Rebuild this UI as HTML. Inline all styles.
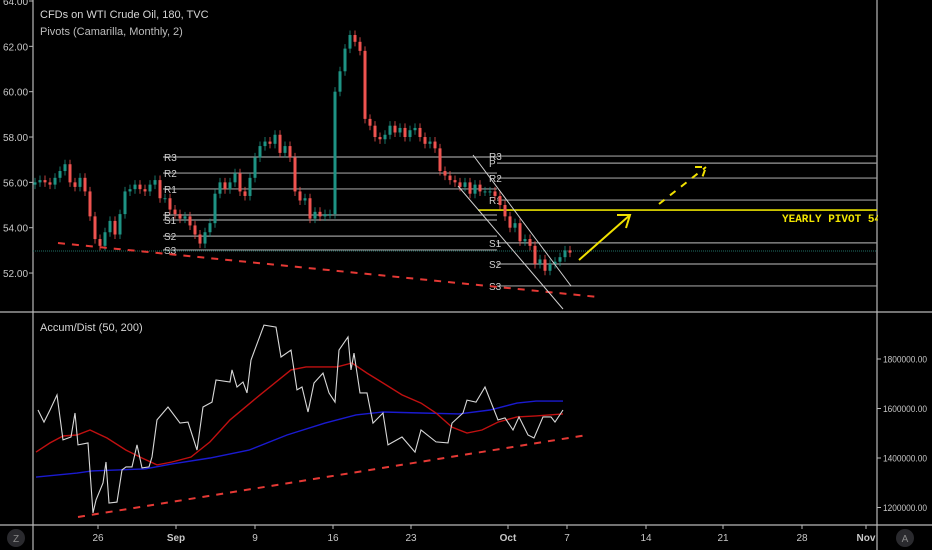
<!DOCTYPE html>
<html><head><meta charset="utf-8"><style>
html,body{margin:0;padding:0;background:#000;width:932px;height:550px;overflow:hidden}
svg{display:block;font-family:"Liberation Sans",sans-serif}
</style></head><body>
<svg id="chart" width="932" height="550" viewBox="0 0 932 550" xmlns="http://www.w3.org/2000/svg">
<rect width="932" height="550" fill="#000"/>
<g id="frame" stroke="#b8b8b8" stroke-width="1.2">
<line x1="33" y1="0" x2="33" y2="550"/>
<line x1="877" y1="0" x2="877" y2="550"/>
<line x1="0" y1="312" x2="932" y2="312"/>
<line x1="0" y1="525" x2="932" y2="525"/>
</g>
<g id="priceAxis"></g>
<g id="adAxis"></g>
<g id="timeAxis"></g>
<g id="pivots"></g>
<g id="candles"></g>
<g id="drawings"></g>
<g id="adPane"></g>
<text x="40" y="18" fill="#d6d6d6" font-size="11">CFDs on WTI Crude Oil, 180, TVC</text>
<text x="40" y="35" fill="#bdbdbd" font-size="11">Pivots (Camarilla, Monthly, 2)</text>
<text x="40" y="331" fill="#d6d6d6" font-size="11">Accum/Dist (50, 200)</text>
<text x="782" y="222" fill="#f2e600" font-size="11" font-weight="bold" font-family="Liberation Mono, monospace">YEARLY PIVOT 54</text>
<rect x="878" y="0" width="54" height="311" fill="#000"/>
<g><circle cx="16" cy="538" r="9" fill="#2a2a2e"/><text x="16" y="542" fill="#888" font-size="10" text-anchor="middle">Z</text></g>
<g><circle cx="905" cy="538" r="9" fill="#2a2a2e"/><text x="905" y="542" fill="#888" font-size="10" text-anchor="middle">A</text></g>
</svg>
<script>
// ---- data ----
const closes=[56.0,56.1,56.0,55.9,56.2,56.5,56.8,56.0,55.8,56.2,55.6,54.5,53.5,53.2,53.8,54.3,53.7,54.6,55.6,55.7,55.9,55.7,55.6,55.9,56.1,55.3,55.3,54.8,54.6,54.4,54.5,54.1,53.7,53.3,53.8,54.2,55.5,56.0,55.7,56.0,56.4,55.6,55.4,56.2,57.1,57.6,57.8,57.7,58.1,57.3,57.6,57.1,55.6,55.2,55.3,54.4,54.7,54.5,54.6,54.6,60.0,60.9,61.9,62.5,62.2,61.8,58.8,58.5,58.0,57.9,58.1,58.5,58.2,58.4,58.0,58.3,58.4,58.0,57.7,57.8,57.5,56.5,56.3,56.1,56.0,55.8,56.0,55.5,55.9,55.6,55.6,55.6,55.4,55.0,54.5,54.0,54.2,53.4,53.5,53.2,52.4,52.6,52.1,52.4,52.5,52.7,53.0,52.9];
const priceTicks=[64,62,60,58,56,54,52];
const adTimes=[0.6,1.8,3,4.4,5.6,7.2,8,8.6,10.6,11.6,12.2,13.6,14.2,14.8,16.4,17.4,18.2,19.4,20.4,21.4,22.8,23.4,24.4,26.6,29,30.6,32.4,33.6,35.4,36.2,39,39.4,40.4,41.6,42.4,43.2,45.8,48.2,49.2,51.2,52.4,53.4,54.6,55.8,57.6,58.8,60,60.8,62.6,63.2,63.8,65,66.4,67.6,69.6,70.6,73.4,76,77.2,80.2,82.6,83.4,85.6,86.4,88.2,90,92.6,94,95.6,96.8,98.6,99.8,101.6,103.2,104,105.6];
const adValues=[1594,1545,1594,1655,1473,1485,1582,1453,1461,1178,1230,1299,1384,1218,1222,1352,1364,1364,1453,1360,1364,1404,1554,1606,1541,1545,1432,1606,1626,1715,1707,1756,1687,1707,1663,1796,1937,1929,1808,1836,1675,1687,1586,1703,1743,1663,1626,1836,1889,1756,1824,1663,1663,1541,1582,1453,1485,1424,1513,1465,1461,1541,1582,1634,1626,1687,1554,1562,1513,1566,1493,1481,1566,1566,1545,1594];
const ma50Times=[0.2,3,5.6,8.4,11,14.4,18.2,21.4,24.4,27.4,31.2,35,39,45,51.2,54.2,60.4,63.4,66.4,69.6,73.4,77.2,80.2,83.4,86.4,89.4,92.6,96.4,100.2,105.6];
const ma50Values=[1424,1461,1489,1493,1513,1481,1432,1400,1372,1384,1404,1465,1554,1655,1756,1768,1768,1784,1743,1703,1655,1622,1582,1525,1501,1513,1545,1566,1570,1578];
const ma200Times=[0.2,8.4,11.4,22,27.4,35,42.8,50.4,58,64.2,69.6,77.2,84.8,91,96.4,100.2,105.6];
const ma200Values=[1323,1339,1348,1356,1376,1400,1432,1493,1541,1574,1586,1582,1578,1594,1622,1630,1630];
const adTicks=[1800000,1600000,1400000,1200000];
const timeLabels=["26","Sep","9","16","23","Oct","7","14","21","28","Nov"];
const timeTicks=[12.6,28.2,44,59.6,75.2,94.6,106.4,122.2,137.6,153.4,166.2];
const pivotNames=["R3","R2","R1","P","S1","S2","S3"];
const pivotsAug=[57.12,56.41,55.71,54.56,54.34,53.63,53.02];
const pivotsSep=[57.16,56.19,55.22,56.85,53.33,52.40,51.43];
const yearlyPivot=54.78;
const lastPrice=52.97;
// ---- axes ----
const X=t=>35+t*5;
const Y=p=>1+(64-p)*22.67;
const YA=v=>359+(1800000-v)/200000*49.5;
const NS="http://www.w3.org/2000/svg";
function mk(tag,attrs,parent){const e=document.createElementNS(NS,tag);for(const k in attrs)e.setAttribute(k,attrs[k]);parent.appendChild(e);return e;}
const pa=document.getElementById('priceAxis');
priceTicks.forEach(p=>{
 const l=mk('line',{x1:29,x2:33,y1:Y(p),y2:Y(p),stroke:'#b8b8b8'},pa);
 
 
 const t=mk('text',{x:3,y:Y(p)+4,fill:'#c8c8c8','font-size':10},pa);
 t.textContent=p.toFixed(2);
 
 
});
const aa=document.getElementById('adAxis');
adTicks.forEach(v=>{
 mk('line',{x1:877,x2:881,y1:YA(v),y2:YA(v),stroke:'#b8b8b8'},aa);
 const t=mk('text',{x:883,y:YA(v)+3.5,fill:'#c8c8c8','font-size':9,'textLength':44,'lengthAdjust':'spacingAndGlyphs'},aa);
 t.textContent=v.toFixed(2);
 
 
});
const ta=document.getElementById('timeAxis');
timeLabels.forEach((s,i)=>{
 const x=X(timeTicks[i]);
 mk('line',{x1:x,x2:x,y1:525,y2:529,stroke:'#b8b8b8'},ta);
 const t=mk('text',{x:x,y:541,fill:'#c8c8c8','font-size':10,'text-anchor':'middle','font-weight':(isNaN(+s)?'bold':'normal')},ta);
 t.textContent=s;
 
 
});
// pivots
const pv=document.getElementById('pivots');
function pivotSet(vals,x1,x2,lx){
 vals.forEach((p,i)=>{
  const l=mk('line',{x1:x1,x2:x2,y1:Y(p),y2:Y(p),stroke:'#9a9a9a','stroke-width':1.2},pv);
  
  
  const t=mk('text',{x:lx,y:Y(p)+4,fill:'#d0d0d0','font-size':10},pv);
  t.textContent=pivotNames[i];
  
  
 });
}
pivotSet(pivotsAug,163,497,164);
pivotSet(pivotsSep,497,877,489);
const yl=mk('line',{x1:478,x2:877,y1:Y(yearlyPivot),y2:Y(yearlyPivot),stroke:'#e8e000','stroke-width':1.6},pv);


const lp=mk('line',{x1:33,x2:877,y1:Y(lastPrice),y2:Y(lastPrice),stroke:'#1f6f66','stroke-width':1,'stroke-dasharray':'1 1'},pv);


// candles
const cg=document.getElementById('candles');
closes.forEach((c,i)=>{
 const o=i?closes[i-1]:c-0.1;
 const up=c>=o;const col=up?'#1e9384':'#ef5350';
 const x=X(i);
 const hi=Math.max(o,c)+0.2,lo=Math.min(o,c)-0.2;
 const w=mk('line',{x1:x,x2:x,y1:Y(hi),y2:Y(lo),stroke:col,'stroke-width':0.8},cg);
 
 
 const b=mk('rect',{x:x-1.5,y:Y(Math.max(o,c)),width:3,height:Math.max(1,Math.abs(Y(o)-Y(c))),fill:col},cg);
 
 
});
// drawings
const dg=document.getElementById('drawings');
const d1=mk('line',{x1:58,y1:243,x2:598,y2:297,stroke:'#e53935','stroke-width':2,'stroke-dasharray':'7 7'},dg);


const c1=mk('line',{x1:473,y1:155,x2:571,y2:286,stroke:'#cfcfcf','stroke-width':1},dg);


const c2=mk('line',{x1:458,y1:186,x2:563,y2:309,stroke:'#cfcfcf','stroke-width':1},dg);


const a1=mk('path',{d:'M579 260 L630 215 M617 215 L630 215 L626 228',stroke:'#f0e000','stroke-width':2,fill:'none'},dg);


const a2=mk('path',{d:'M659 204 L706 167 M695 167 L706 167 L702 178',stroke:'#f0e000','stroke-width':2,fill:'none','stroke-dasharray':'7 7'},dg);


// A/D pane
const ag=document.getElementById('adPane');
function poly(ts,vs,col,w,name){
 const pts=ts.map((t,i)=>X(t).toFixed(1)+','+YA(vs[i]*1000).toFixed(1)).join(' ');
 const p=mk('polyline',{points:pts,fill:'none',stroke:col,'stroke-width':w},ag);
 
 
}
poly(ma200Times,ma200Values,'#1a1ad0',1.4,'ma200-line');
poly(ma50Times,ma50Values,'#c01010',1.4,'ma50-line');
poly(adTimes,adValues,'#d8d8d8',1.1,'accum-dist-line');
const d2=mk('line',{x1:78,y1:517,x2:587,y2:435,stroke:'#e53935','stroke-width':2,'stroke-dasharray':'7 7'},ag);


</script>
</body></html>
